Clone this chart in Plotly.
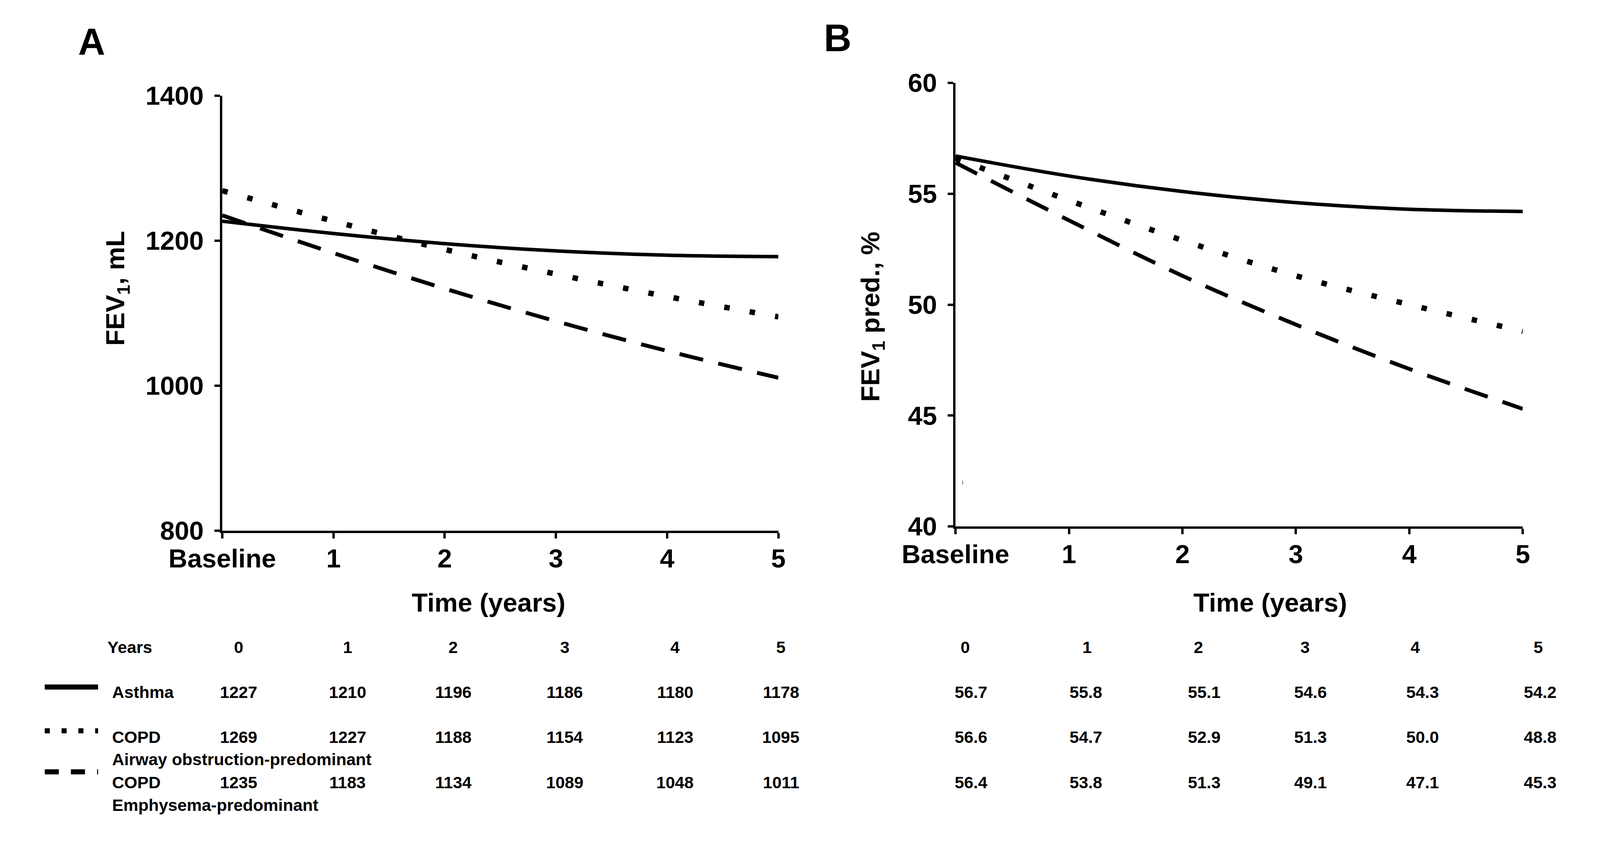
import plotly.graph_objects as go

# The reference is 4290x2152; the page is seen through a viewport that is
# 4096 px wide, so the figure is laid out to fill that viewport.
REF_W, REF_H = 4290, 2152
VIEW_W, VIEW_H = 4096, 2152
BODY_MARGIN = 8
FIG_W, FIG_H = VIEW_W - 2 * BODY_MARGIN, VIEW_H - 2 * BODY_MARGIN
SX = VIEW_W / REF_W

# ---------------- data ----------------
years = [0, 1, 2, 3, 4, 5]
x_tick_labels = ["Baseline", "1", "2", "3", "4", "5"]
group_names = ["Asthma", "COPD Airway obstruction-predominant", "COPD Emphysema-predominant"]

fev1_ml_asthma = [1227, 1210, 1196, 1186, 1180, 1178]
fev1_ml_copd_airway = [1269, 1227, 1188, 1154, 1123, 1095]
fev1_ml_copd_emph = [1235, 1183, 1134, 1089, 1048, 1011]

fev1_pct_asthma = [56.7, 55.8, 55.1, 54.6, 54.3, 54.2]
fev1_pct_copd_airway = [56.6, 54.7, 52.9, 51.3, 50.0, 48.8]
fev1_pct_copd_emph = [56.4, 53.8, 51.3, 49.1, 47.1, 45.3]

yticks_a = [800, 1000, 1200, 1400]
yticks_b = [40, 45, 50, 55, 60]

# ---------------- style ----------------
FONT = "Liberation Sans, Arial, sans-serif"
BLACK = "#000000"
styles = [
    dict(color=BLACK, width=9, dash="solid"),
    dict(color=BLACK, width=14, dash="14px,52px"),
    dict(color=BLACK, width=10, dash="62px,40px"),
]


def fx(v):
    """reference x pixel -> paper fraction"""
    return (v * SX - BODY_MARGIN) / FIG_W


def fy(v):
    """reference y pixel -> paper fraction"""
    return 1 - (v - BODY_MARGIN) / FIG_H


fig = go.Figure()

series_a = [fev1_ml_asthma, fev1_ml_copd_airway, fev1_ml_copd_emph]
series_b = [fev1_pct_asthma, fev1_pct_copd_airway, fev1_pct_copd_emph]

for name, vals, st in zip(group_names, series_a, styles):
    fig.add_trace(go.Scatter(x=years, y=vals, mode="lines", name=name,
                             line=dict(shape="spline", smoothing=1.0, **st),
                             xaxis="x", yaxis="y", showlegend=False))
for name, vals, st in zip(group_names, series_b, styles):
    fig.add_trace(go.Scatter(x=years, y=vals, mode="lines", name=name,
                             line=dict(shape="spline", smoothing=1.0, **st),
                             xaxis="x2", yaxis="y2", showlegend=False))

tickfont = dict(family=FONT, size=67, color=BLACK, weight="bold")
axis_common = dict(showline=True, linewidth=6, linecolor=BLACK, ticks="outside",
                   ticklen=14, tickwidth=6, tickcolor=BLACK, showgrid=False,
                   zeroline=False, tickfont=tickfont, fixedrange=True, automargin=False)

fig.update_layout(
    template="none",
    width=FIG_W, height=FIG_H, autosize=False,
    margin=dict(l=0, r=0, t=0, b=0, pad=0, autoexpand=False),
    paper_bgcolor="white", plot_bgcolor="white",
    showlegend=False,
    xaxis=dict(domain=[fx(596), fx(2087)], range=[0, 5], anchor="y",
               tickvals=years, ticktext=x_tick_labels, ticklabelstandoff=-6, **axis_common),
    yaxis=dict(domain=[fy(1358), fy(245)], range=[800, 1400], anchor="x",
               tickvals=yticks_a, ticklabelstandoff=14, **axis_common),
    xaxis2=dict(domain=[fx(2562), fx(4083)], range=[0, 5], anchor="y2",
                tickvals=years, ticktext=x_tick_labels, ticklabelstandoff=-6, **axis_common),
    yaxis2=dict(domain=[fy(1347), fy(212)], range=[40, 60], anchor="x2",
                tickvals=yticks_b, ticklabelstandoff=14, **axis_common),
)

ann = []


def text(x, y, s, size=43, xanchor="center", angle=0):
    ann.append(dict(x=fx(x), y=fy(y), xref="paper", yref="paper", text=s,
                    showarrow=False, xanchor=xanchor, yanchor="middle", textangle=angle,
                    font=dict(family=FONT, size=size, color=BLACK, weight="bold")))


# panel letters
text(246, 106, "A", size=96)
text(2246, 97, "B", size=98)

# axis titles
text(313, 738, "FEV<sub>1</sub>, mL", size=67, angle=-90)
text(2338, 810, "FEV<sub>1</sub> pred., %", size=67, angle=-90)
text(1310, 1541, "Time (years)", size=67)
text(3406, 1541, "Time (years)", size=67)

# ---------------- table below ----------------
row_y = [1771, 1886, 2002]
header_y = 1656
cols_a = [640, 932, 1215, 1514, 1810, 2094]
cols_b = [2604, 2912, 3229, 3514, 3814, 4130]
hdr_b = [2588, 2915, 3213, 3499, 3795, 4125]

text(286, header_y, "Years", xanchor="left")
for i, yv in enumerate(years):
    text(cols_a[i], header_y, str(yv))
    text(hdr_b[i], header_y, str(yv))

row_labels = ["Asthma", "COPD", "COPD"]
for r, (lab, va, vb) in enumerate(zip(row_labels, series_a, series_b)):
    text(298, row_y[r], lab, xanchor="left")
    for i in range(len(years)):
        text(cols_a[i], row_y[r], str(va[i]))
        text(cols_b[i], row_y[r], f"{vb[i]:.1f}")

text(298, 1943, "Airway obstruction-predominant", xanchor="left")
text(298, 2060, "Emphysema-predominant", xanchor="left")

# legend keys
shapes = []
key_y = [1758, 1870, 1975]
key_dash = ["solid", "13px,30px", "36px,31px"]
for ky, kd in zip(key_y, key_dash):
    shapes.append(dict(type="line", xref="paper", yref="paper",
                       x0=fx(120), x1=fx(263), y0=fy(ky), y1=fy(ky),
                       line=dict(color=BLACK, width=13, dash=kd)))
# small stray mark in panel B
shapes.append(dict(type="line", xref="paper", yref="paper",
                   x0=fx(2581), x1=fx(2581), y0=fy(1230), y1=fy(1240),
                   line=dict(color="#777777", width=2)))

fig.update_layout(annotations=ann, shapes=shapes)

fig.write_html("out.html")
